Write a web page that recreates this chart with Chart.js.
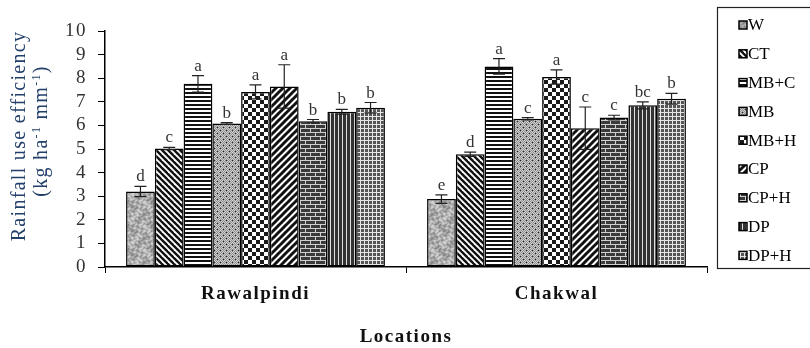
<!DOCTYPE html>
<html>
<head>
<meta charset="utf-8">
<script src="https://cdn.jsdelivr.net/npm/chart.js@4.4.0/dist/chart.umd.min.js"></script>
<style>
    html, body { margin: 0; padding: 0; background: #fff; }
</style>
</head>
<body>
<canvas id="rue_chart" width="810" height="348"></canvas>
<script>
// Data
var locations = ['Rawalpindi', 'Chakwal'];
var treatments = ['W', 'CT', 'MB+C', 'MB', 'MB+H', 'CP', 'CP+H', 'DP', 'DP+H'];
var rueRawalpindi = [3.2, 5.02, 7.76, 6.08, 7.42, 7.65, 6.18, 6.58, 6.75];
var rueChakwal = [2.88, 4.78, 8.5, 6.28, 8.05, 5.88, 6.33, 6.85, 7.13];
var errRawalpindi = [0.22, 0.05, 0.35, 0.04, 0.3, 0.92, 0.07, 0.1, 0.22];
var errChakwal = [0.18, 0.09, 0.33, 0.05, 0.3, 0.9, 0.1, 0.15, 0.23];
var lettersRawalpindi = ['d', 'c', 'a', 'b', 'a', 'a', 'b', 'b', 'b'];
var lettersChakwal = ['e', 'd', 'a', 'c', 'a', 'c', 'c', 'bc', 'b'];
var yTicks = [0, 1, 2, 3, 4, 5, 6, 7, 8, 9, 10];

var serif = '"Liberation Serif", "Times New Roman", serif';

// Fill patterns, one per treatment
function makePattern(kind) {
    var c = document.createElement('canvas');
    var g;
    switch (kind) {
        case 'granite':
            c.width = 24; c.height = 24;
            g = c.getContext('2d');
            var img = g.createImageData(24, 24);
            for (var y = 0; y < 24; y++) {
                for (var x = 0; x < 24; x++) {
                    var a = Math.sin((x / 24) * Math.PI * 4 + Math.sin((y / 24) * Math.PI * 6) * 1.6);
                    var b = Math.cos((y / 24) * Math.PI * 4 + Math.cos((x / 24) * Math.PI * 6) * 1.4);
                    var v = Math.round(172 + 42 * a * b);
                    var p = (y * 24 + x) * 4;
                    img.data[p] = v; img.data[p + 1] = v; img.data[p + 2] = v; img.data[p + 3] = 255;
                }
            }
            g.putImageData(img, 0, 0);
            break;
        case 'backslash':
            c.width = 6; c.height = 6;
            g = c.getContext('2d');
            g.fillStyle = '#fff'; g.fillRect(0, 0, 6, 6);
            g.strokeStyle = '#111'; g.lineWidth = 2.4;
            for (var k = -2; k <= 2; k++) {
                g.beginPath(); g.moveTo(k * 6 - 1, -1); g.lineTo(k * 6 + 7, 7); g.stroke();
            }
            break;
        case 'slash':
            c.width = 7; c.height = 7;
            g = c.getContext('2d');
            g.fillStyle = '#fff'; g.fillRect(0, 0, 7, 7);
            g.strokeStyle = '#111'; g.lineWidth = 3;
            for (var k2 = -2; k2 <= 2; k2++) {
                g.beginPath(); g.moveTo(k2 * 7 - 1, 8); g.lineTo(k2 * 7 + 8, -1); g.stroke();
            }
            break;
        case 'hlines':
            c.width = 4; c.height = 4;
            g = c.getContext('2d');
            g.fillStyle = '#fff'; g.fillRect(0, 0, 4, 4);
            g.fillStyle = '#111'; g.fillRect(0, 0, 4, 2);
            break;
        case 'dots':
            c.width = 6; c.height = 6;
            g = c.getContext('2d');
            g.fillStyle = '#8e8e8e'; g.fillRect(0, 0, 6, 6);
            g.fillStyle = '#cfcfcf';
            for (var i = 0; i < 6; i++) {
                for (var j = 0; j < 6; j++) {
                    if ((i + j) % 2 === 0) g.fillRect(i, j, 1, 1);
                }
            }
            g.fillStyle = '#222';
            g.fillRect(1, 1, 1, 1); g.fillRect(4, 4, 1, 1);
            break;
        case 'checker':
            c.width = 8; c.height = 8;
            g = c.getContext('2d');
            g.fillStyle = '#fff'; g.fillRect(0, 0, 8, 8);
            g.fillStyle = '#1a1a1a'; g.fillRect(0, 0, 4, 4); g.fillRect(4, 4, 4, 4);
            break;
        case 'brick':
            c.width = 10; c.height = 8;
            g = c.getContext('2d');
            g.fillStyle = '#3a3a3a'; g.fillRect(0, 0, 10, 8);
            g.fillStyle = '#d0d0d0';
            g.fillRect(0, 0, 10, 1); g.fillRect(0, 4, 10, 1);
            g.fillRect(0, 0, 1, 4); g.fillRect(5, 4, 1, 4);
            break;
        case 'vlines':
            c.width = 4; c.height = 4;
            g = c.getContext('2d');
            g.fillStyle = '#333'; g.fillRect(0, 0, 4, 4);
            g.fillStyle = '#e0e0e0'; g.fillRect(2, 0, 1, 4);
            break;
        case 'grid':
            c.width = 4; c.height = 4;
            g = c.getContext('2d');
            g.fillStyle = '#555'; g.fillRect(0, 0, 4, 4);
            g.fillStyle = '#e6e6e6'; g.fillRect(0, 0, 4, 1); g.fillRect(0, 0, 1, 4);
            break;
    }
    return g.createPattern(c, 'repeat');
}

var patternKinds = ['granite', 'backslash', 'hlines', 'dots', 'checker', 'slash', 'brick', 'vlines', 'grid'];

var datasets = treatments.map(function (name, i) {
    return {
        label: name,
        data: [rueRawalpindi[i], rueChakwal[i]],
        errors: [errRawalpindi[i], errChakwal[i]],
        letters: [lettersRawalpindi[i], lettersChakwal[i]],
        backgroundColor: makePattern(patternKinds[i]),
        borderColor: '#000',
        borderWidth: 1.5,
        borderSkipped: false,
        barPercentage: 1,
        categoryPercentage: 0.86
    };
});

// Letter spacing like the exported figure (axis labels only)
var spacingPlugin = {
    id: 'spacing',
    beforeDraw: function (chart) { chart.ctx.letterSpacing = '1.5px'; },
    beforeDatasetsDraw: function (chart) { chart.ctx.letterSpacing = '0px'; }
};

// Error bars and significance letters
var errorBarPlugin = {
    id: 'errorBars',
    afterDatasetsDraw: function (chart) {
        var ctx = chart.ctx;
        var yScale = chart.scales.y;
        ctx.save();
        chart.data.datasets.forEach(function (ds, di) {
            var meta = chart.getDatasetMeta(di);
            meta.data.forEach(function (bar, idx) {
                var v = ds.data[idx], e = ds.errors[idx];
                var yTop = yScale.getPixelForValue(v + e);
                var yBot = yScale.getPixelForValue(v - e);
                ctx.strokeStyle = '#222';
                ctx.lineWidth = 1.2;
                ctx.beginPath();
                ctx.moveTo(bar.x, yTop); ctx.lineTo(bar.x, yBot);
                ctx.moveTo(bar.x - 6, yTop); ctx.lineTo(bar.x + 6, yTop);
                ctx.moveTo(bar.x - 6, yBot); ctx.lineTo(bar.x + 6, yBot);
                ctx.stroke();
                ctx.fillStyle = '#333';
                ctx.font = '17px ' + serif;
                ctx.textAlign = 'center';
                ctx.textBaseline = 'alphabetic';
                ctx.fillText(ds.letters[idx], bar.x, yTop - 5);
            });
        });
        ctx.restore();
    }
};

// Y title with superscripts, and the boxed legend on the right
var decorPlugin = {
    id: 'decor',
    afterDraw: function (chart) {
        var ctx = chart.ctx;
        ctx.save();
        ctx.letterSpacing = '1.3px';
        ctx.fillStyle = '#23406a';
        ctx.font = '20px ' + serif;
        ctx.textBaseline = 'middle';
        ctx.textAlign = 'center';
        ctx.save();
        ctx.translate(20, 136);
        ctx.rotate(-Math.PI / 2);
        ctx.fillText('Rainfall use efficiency', 0, 0);
        ctx.restore();

        var parts = [['(kg ha', false], ['-1', true], [' mm', false], ['-1', true], [')', false]];
        var bigFont = '20px ' + serif, smallFont = '12px ' + serif;
        var total = 0;
        parts.forEach(function (p) { ctx.font = p[1] ? smallFont : bigFont; total += ctx.measureText(p[0]).width; });
        ctx.save();
        ctx.translate(42, 131);
        ctx.rotate(-Math.PI / 2);
        ctx.textAlign = 'left';
        var x = -total / 2;
        parts.forEach(function (p) {
            ctx.font = p[1] ? smallFont : bigFont;
            ctx.fillText(p[0], x, p[1] ? -5 : 0);
            x += ctx.measureText(p[0]).width;
        });
        ctx.restore();

        // legend
        ctx.letterSpacing = '0px';
        ctx.strokeStyle = '#222';
        ctx.lineWidth = 1.2;
        ctx.strokeRect(717.5, 7.5, 120, 261);
        ctx.font = '17px ' + serif;
        ctx.textAlign = 'left';
        ctx.textBaseline = 'middle';
        chart.data.datasets.forEach(function (ds, i) {
            var cy = 25 + i * 28.8;
            ctx.fillStyle = ds.backgroundColor;
            ctx.fillRect(739, cy - 4, 8, 8);
            ctx.lineWidth = 1.5;
            ctx.strokeStyle = '#000';
            ctx.strokeRect(739, cy - 4, 8, 8);
            ctx.fillStyle = '#000';
            ctx.fillText(ds.label, 748, cy + 1);
        });
        ctx.restore();
    }
};

var ctx = document.getElementById('rue_chart').getContext('2d');
new Chart(ctx, {
    type: 'bar',
    data: { labels: locations, datasets: datasets },
    options: {
        responsive: false,
        animation: false,
        layout: { padding: { top: 31, right: 103, left: 0, bottom: 0 } },
        plugins: { legend: { display: false }, tooltip: { enabled: false } },
        scales: {
            x: {
                grid: { display: true, drawOnChartArea: false, drawTicks: true, tickLength: 6, color: '#000', offset: true },
                border: { display: true, color: '#000', width: 1.5 },
                ticks: { color: '#111', padding: 10, font: { family: serif, size: 19, weight: 'bold' } },
                title: { display: true, text: 'Locations', color: '#111', padding: { top: 0, bottom: 0 },
                    font: { family: serif, size: 19, weight: 'bold' } },
                afterFit: function (scale) { scale.height = 81; }
            },
            y: {
                min: 0,
                max: 10,
                afterBuildTicks: function (scale) { scale.ticks = yTicks.map(function (v) { return { value: v }; }); },
                grid: { display: true, drawOnChartArea: false, drawTicks: true, tickLength: 7, color: '#000' },
                border: { display: true, color: '#000', width: 1.5 },
                ticks: { color: '#333', padding: 11, autoSkip: false, font: { family: serif, size: 19 } },
                afterFit: function (scale) { scale.width = 105; }
            }
        }
    },
    plugins: [spacingPlugin, errorBarPlugin, decorPlugin]
});
</script>
</body>
</html>
